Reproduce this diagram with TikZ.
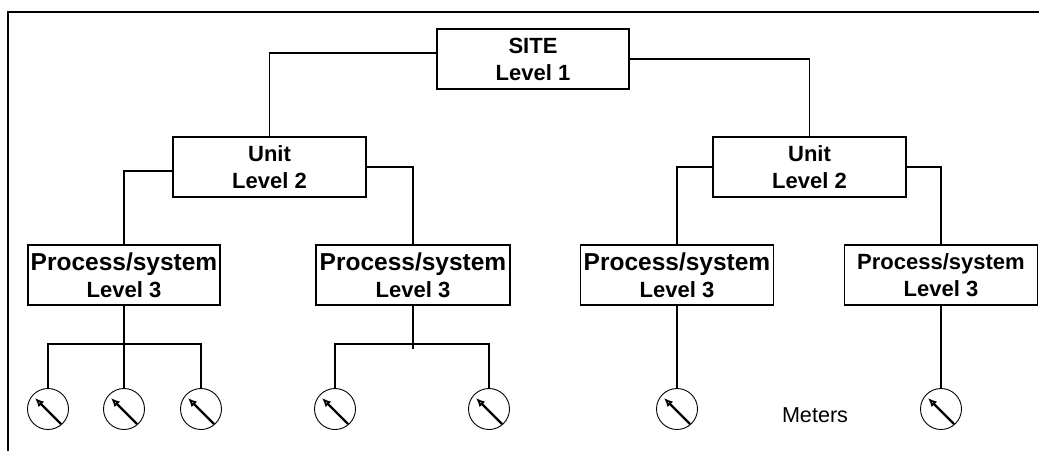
\documentclass[tikz,border=0pt]{standalone}
\usepackage{fontspec}
\setmainfont{Liberation Sans}
\usetikzlibrary{arrows.meta}

\tikzset{
  box/.style={draw,line width=1.7pt,minimum height=60pt,inner sep=0pt,align=center,
    font=\fontsize{22}{27}\selectfont\bfseries},
  wire/.style={line width=1.8pt},
  meter/.style={circle,draw,line width=0.9pt,minimum size=41pt,inner sep=0pt,
    path picture={\draw[line width=2.2pt,-{Latex[open,length=9pt,width=8pt]}]
      ([shift={(13pt,-15pt)}]path picture bounding box.center) --
      ([shift={(-13pt,11pt)}]path picture bounding box.center);}}
}

\begin{document}
\begin{tikzpicture}[x=1pt,y=1pt]
    \useasboundingbox (0,0) rectangle (1039,-451);
    % frame
    \draw[line width=2.4pt] (8,-451) -- (8,-12) -- (1039,-12);
    % levels
    \node[box,minimum width=192pt] (site) at (533,-59) {SITE\\Level 1};
    \node[box,minimum width=193pt] (unitL) at (269.5,-167) {Unit\\Level 2};
    \node[box,minimum width=193pt] (unitR) at (809.5,-167) {Unit\\Level 2};
    \node[box,minimum width=192pt] (procA) at (124,-275) {{\fontsize{24.5}{27}\selectfont Process/system}\\Level 3};
    \node[box,minimum width=194pt] (procB) at (413,-275) {{\fontsize{24.5}{27}\selectfont Process/system}\\Level 3};
    \node[box,minimum width=193pt] (procC) at (677,-275) {{\fontsize{24.5}{27}\selectfont Process/system}\\Level 3};
    \node[box,minimum width=193pt] (procD) at (941,-275) {Process/system\\Level 3};
    \draw[wire] ([yshift=6pt]site.west) -| (unitL.north);
    \draw[wire] (site.east) -| (unitR.north);
    \draw[wire] ([yshift=-4pt]unitL.west) -| (procA.north);
    \draw[wire] (unitL.east) -| (procB.north);
    \draw[wire] (unitR.west) -| (procC.north);
    \draw[wire] (unitR.east) -| (procD.north);
    % meters
    \node[meter] (m1) at (48,-409) {};
    \node[meter] (m2) at (124,-409) {};
    \node[meter] (m3) at (201,-409) {};
    \node[meter] (m4) at (335,-409) {};
    \node[meter] (m5) at (489,-409) {};
    \node[meter] (m6) at (677,-409) {};
    \node[meter] (m7) at (941,-409) {};
    \coordinate (busA) at (124,-344);
    \coordinate (busB) at (413,-344);
    \coordinate (stubB) at (413,-349);
    \draw[wire] (procA.south) -- (busA);
    \draw[wire] (m1.north) |- (busA) -| (m3.north);
    \draw[wire] (busA) -- (m2.north);
    \draw[wire] (procB.south) -- (stubB);
    \draw[wire] (m4.north) |- (busB) -| (m5.north);
    \draw[wire] (procC.south) -- (m6.north);
    \draw[wire] (procD.south) -- (m7.north);
    \node[font=\fontsize{21.6}{26}\selectfont] (lbl) at (815,-415) {Meters};
\end{tikzpicture}
\end{document}
